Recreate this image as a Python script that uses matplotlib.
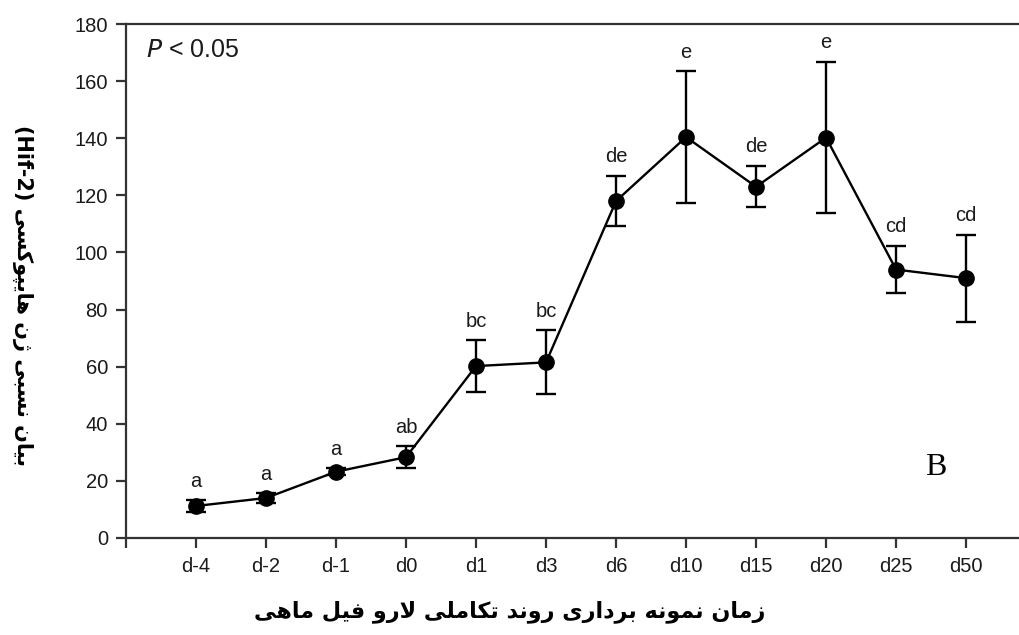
import matplotlib.pyplot as plt

# Datos
dias = ["d-4", "d-2", "d-1", "d0", "d1", "d3", "d6", "d10", "d15", "d20", "d25", "d50"]
media = [11.2, 14.0, 23.2, 28.3, 60.2, 61.5, 118.0, 140.4, 123.0, 140.2, 94.0, 91.0]
error = [2.0, 1.6, 1.2, 3.8, 9.0, 11.2, 8.8, 23.0, 7.2, 26.5, 8.2, 15.2]
letras = ["a", "a", "a", "ab", "bc", "bc", "de", "e", "de", "e", "cd", "cd"]

etiqueta_x = "زمان نمونه برداری روند تکاملی لارو فیل ماهی"
etiqueta_y = "بیان نسبی ژن هایپوکسی"
etiqueta_y_lat = "(Hif-2)"

# Formas de presentación árabes: aislada, final, inicial, medial
FORMAS = {
    "ا": ("\uFE8D", "\uFE8E", None, None),
    "د": ("\uFEA9", "\uFEAA", None, None),
    "ر": ("\uFEAD", "\uFEAE", None, None),
    "ز": ("\uFEAF", "\uFEB0", None, None),
    "ژ": ("\uFB8A", "\uFB8B", None, None),
    "و": ("\uFEED", "\uFEEE", None, None),
    "ب": ("\uFE8F", "\uFE90", "\uFE91", "\uFE92"),
    "پ": ("\uFB56", "\uFB57", "\uFB58", "\uFB59"),
    "ت": ("\uFE95", "\uFE96", "\uFE97", "\uFE98"),
    "س": ("\uFEB1", "\uFEB2", "\uFEB3", "\uFEB4"),
    "ف": ("\uFED1", "\uFED2", "\uFED3", "\uFED4"),
    "ک": ("\uFB8E", "\uFB8F", "\uFB90", "\uFB91"),
    "ل": ("\uFEDD", "\uFEDE", "\uFEDF", "\uFEE0"),
    "م": ("\uFEE1", "\uFEE2", "\uFEE3", "\uFEE4"),
    "ن": ("\uFEE5", "\uFEE6", "\uFEE7", "\uFEE8"),
    "ه": ("\uFEE9", "\uFEEA", "\uFEEB", "\uFEEC"),
    "ی": ("\uFBFC", "\uFBFD", "\uFBFE", "\uFBFF"),
}


def une_siguiente(c):
    return c in FORMAS and FORMAS[c][2] is not None


def dar_forma(texto):
    """Une las letras persas y las pone en orden visual (derecha a izquierda)"""
    salida = []
    i = 0
    while i < len(texto):
        c = texto[i]
        if c not in FORMAS:
            salida.append(c)
            i += 1
            continue
        prev = texto[i - 1] if i > 0 else " "
        con_prev = une_siguiente(prev)
        sig = texto[i + 1] if i + 1 < len(texto) else " "
        # ligadura lam-alef
        if c == "ل" and sig == "ا":
            salida.append("\uFEFC" if con_prev else "\uFEFB")
            i += 2
            continue
        con_sig = une_siguiente(c) and sig in FORMAS
        f = FORMAS[c]
        if con_prev and con_sig:
            salida.append(f[3])
        elif con_prev:
            salida.append(f[1])
        elif con_sig:
            salida.append(f[2])
        else:
            salida.append(f[0])
        i += 1
    return "".join(reversed(salida))


plt.rcParams["font.family"] = ["Liberation Sans", "DejaVu Sans"]

fig = plt.figure(figsize=(10.2, 6.35), dpi=100)
ax = fig.add_axes([0.1235, 0.1528, 0.8765, 0.8094])

x = list(range(len(dias)))
ax.errorbar(x, media, yerr=error, color="black", marker="o", markersize=11,
            linewidth=1.7, elinewidth=1.7, capsize=7, capthick=1.7)

for xi, m, e, l in zip(x, media, error, letras):
    ax.annotate(l, (xi, m + e), xytext=(0, 7), textcoords="offset points",
                ha="center", va="bottom", fontsize=14.5, color="#1a1a1a")

ax.set_xlim(-1, 11.77)
ax.set_ylim(0, 180)
ax.set_yticks(range(0, 181, 20))
ax.set_xticks([-1] + x)
ax.set_xticklabels([""] + dias)

ax.spines["right"].set_visible(False)
for s in ["left", "bottom", "top"]:
    ax.spines[s].set_linewidth(1.6)
    ax.spines[s].set_color("#333333")
ax.tick_params(axis="both", direction="out", length=7, width=1.6,
               color="#333333", labelsize=14.5, labelcolor="#1a1a1a")
ax.tick_params(axis="x", pad=7)
ax.tick_params(axis="y", pad=6)

ax.text(0.022, 0.95, "$P$ < 0.05", transform=ax.transAxes, fontsize=18,
        ha="left", va="center", color="#1a1a1a")
ax.text(0.906, 0.137, "B", transform=ax.transAxes, fontsize=23,
        family="Liberation Serif", ha="center", va="center")

fig.text(0.5, 0.037, dar_forma(etiqueta_x), ha="center", va="center",
         fontsize=16, fontweight="bold", family="DejaVu Sans")
fig.text(0.022, 0.535, etiqueta_y_lat + " " + dar_forma(etiqueta_y), rotation=270,
         ha="center", va="center", fontsize=15, fontweight="bold",
         family="DejaVu Sans")

plt.savefig("out.png", dpi=100)
